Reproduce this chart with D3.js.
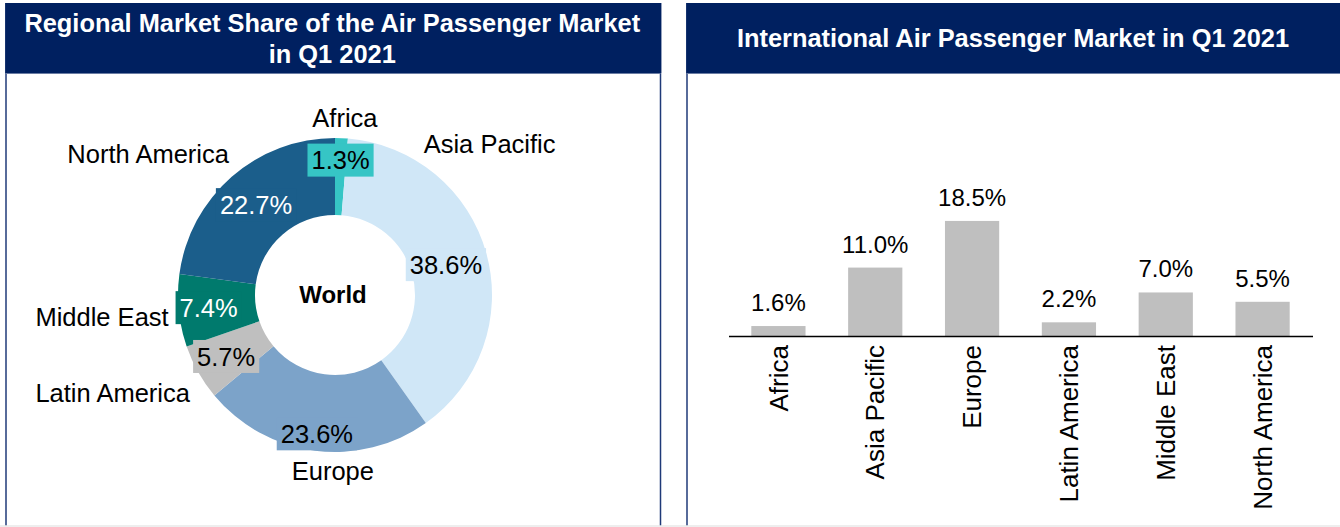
<!DOCTYPE html>
<html>
<head>
<meta charset="utf-8">
<script src="https://cdn.jsdelivr.net/npm/d3@7"></script>
<style>
  html, body { margin: 0; padding: 0; background: #fff; }
  svg { display: block; font-family: "Liberation Sans", Arial, sans-serif; }
</style>
</head>
<body>
<div id="container"></div>
<script>
const W = 1340, H = 527;

// data
const regions = ["Africa", "Asia Pacific", "Europe", "Latin America", "Middle East", "North America"];
const worldShare = [1.3, 38.6, 23.6, 5.7, 7.4, 22.7];
const intlShare = [1.6, 11.0, 18.5, 2.2, 7.0, 5.5];
const sliceColors = ["#36c5c5", "#d0e7f7", "#7ca3c9", "#bfbfbf", "#007a6d", "#1b5e8b"];
const labelInk = ["#000", "#000", "#000", "#000", "#fff", "#fff"];

// layout bits for the donut labels (radius of each % label, polar spot of each name)
const pctRadius = [135, 115, 140, 125, 127, 120];
const nameSpots = [[3.2, 177], [45.7, 216], [180.7, 176], [246.2, 243], [264.6, 234], [307, 234]];

const navy = "#002060";
const fmt = d => d.toFixed(1) + "%";

const svg = d3.select("#container").append("svg")
  .attr("width", W).attr("height", H);

// ---- panel frames
function panel(x0, x1, lines) {
  const g = svg.append("g");
  g.append("line").attr("x1", x0).attr("x2", x0).attr("y1", 3).attr("y2", 526)
    .attr("stroke", "#1f3a78").attr("stroke-width", 1.5);
  g.append("line").attr("x1", x1).attr("x2", x1).attr("y1", 3).attr("y2", 526)
    .attr("stroke", "#1f3a78").attr("stroke-width", 1.5);
  g.append("rect").attr("x", x0 - 0.75).attr("y", 3).attr("width", x1 - x0 + 1.5).attr("height", 70)
    .attr("fill", navy);
  g.append("line").attr("x1", x0).attr("x2", x1).attr("y1", 73.5).attr("y2", 73.5)
    .attr("stroke", "#6a7ca3").attr("stroke-width", 1);
  const cx = (x0 + x1) / 2;
  const t = g.append("text").attr("text-anchor", "middle").attr("fill", "#fff")
    .style("font-weight", "bold").style("font-size", "25.4px");
  lines.forEach((s, i) => {
    t.append("tspan").attr("x", cx - 1)
      .attr("y", lines.length === 1 ? 47 : 32 + i * 31)
      .text(s);
  });
}
panel(6, 660.5, ["Regional Market Share of the Air Passenger Market", "in Q1 2021"]);
panel(687, 1341, ["International Air Passenger Market in Q1 2021"]);

svg.append("line").attr("x1", 0).attr("x2", W).attr("y1", 526).attr("y2", 526)
  .attr("stroke", "#e8e8e8").attr("stroke-width", 1.5);

// ---- donut
const cx = 335, cy = 295, R = 157, r0 = 80;
const pie = d3.pie().sort(null).value(d => d);
const arcs = pie(worldShare);
const arc = d3.arc().innerRadius(r0).outerRadius(R);

const donut = svg.append("g").attr("transform", `translate(${cx},${cy})`);
donut.selectAll("path.slice")
  .data(arcs)
  .enter().append("path")
  .attr("class", "slice")
  .attr("d", arc)
  .attr("fill", (d, i) => sliceColors[i]);

donut.append("text")
  .attr("x", -2).attr("y", 0).attr("dy", "0.35em")
  .attr("text-anchor", "middle")
  .style("font-weight", "bold").style("font-size", "24px")
  .text("World");

// percentage labels with boxes in the slice colour
const pctG = donut.selectAll("g.pct")
  .data(arcs)
  .enter().append("g")
  .attr("class", "pct")
  .attr("transform", (d, i) => {
    const c = d3.arc().innerRadius(pctRadius[i]).outerRadius(pctRadius[i]).centroid(d);
    return `translate(${c[0]},${c[1]})`;
  });
pctG.append("rect")
  .attr("fill", (d, i) => sliceColors[i]);
pctG.append("text")
  .attr("text-anchor", "middle")
  .attr("dy", "0.36em")
  .attr("fill", (d, i) => labelInk[i])
  .style("font-size", "25.5px")
  .text(d => fmt(d.data));
pctG.each(function () {
  const g = d3.select(this);
  const b = g.select("text").node().getBBox();
  g.select("rect")
    .attr("x", b.x - 4).attr("y", -16.5)
    .attr("width", b.width + 8).attr("height", 33);
});

// region names around the donut
donut.selectAll("text.name")
  .data(regions)
  .enter().append("text")
  .attr("class", "name")
  .attr("text-anchor", "middle")
  .attr("dy", "0.35em")
  .attr("x", (d, i) => nameSpots[i][1] * Math.sin(nameSpots[i][0] * Math.PI / 180))
  .attr("y", (d, i) => -nameSpots[i][1] * Math.cos(nameSpots[i][0] * Math.PI / 180))
  .style("font-size", "25.5px")
  .text(d => d);

// ---- bar chart
const base = 336;
const x = d3.scaleBand().domain(regions).range([730, 1311])
  .paddingInner(0.44).paddingOuter(0.22);
const y = d3.scaleLinear().domain([0, 20]).range([base, base - 124.4]);

const bars = svg.append("g");
bars.selectAll("rect")
  .data(intlShare)
  .enter().append("rect")
  .attr("x", (d, i) => x(regions[i]))
  .attr("width", x.bandwidth())
  .attr("y", d => y(d))
  .attr("height", d => base - y(d))
  .attr("fill", "#bfbfbf");

bars.selectAll("text.val")
  .data(intlShare)
  .enter().append("text")
  .attr("class", "val")
  .attr("text-anchor", "middle")
  .attr("x", (d, i) => x(regions[i]) + x.bandwidth() / 2)
  .attr("y", d => y(d) - 15)
  .style("font-size", "24px")
  .text(fmt);

const xAxis = svg.append("g")
  .attr("transform", `translate(0,${base})`)
  .call(d3.axisBottom(x).tickSize(0).tickPadding(0));
xAxis.select(".domain")
  .attr("d", "M729,0.5H1313")
  .attr("stroke", "#000").attr("stroke-width", 1.3);
xAxis.selectAll(".tick text")
  .attr("transform", "rotate(-90)")
  .attr("text-anchor", "end")
  .attr("x", -9).attr("y", 0).attr("dy", "0.35em")
  .attr("fill", "#000")
  .style("font-size", "26px")
  .style("font-family", "\"Liberation Sans\", Arial, sans-serif");
</script>
</body>
</html>
